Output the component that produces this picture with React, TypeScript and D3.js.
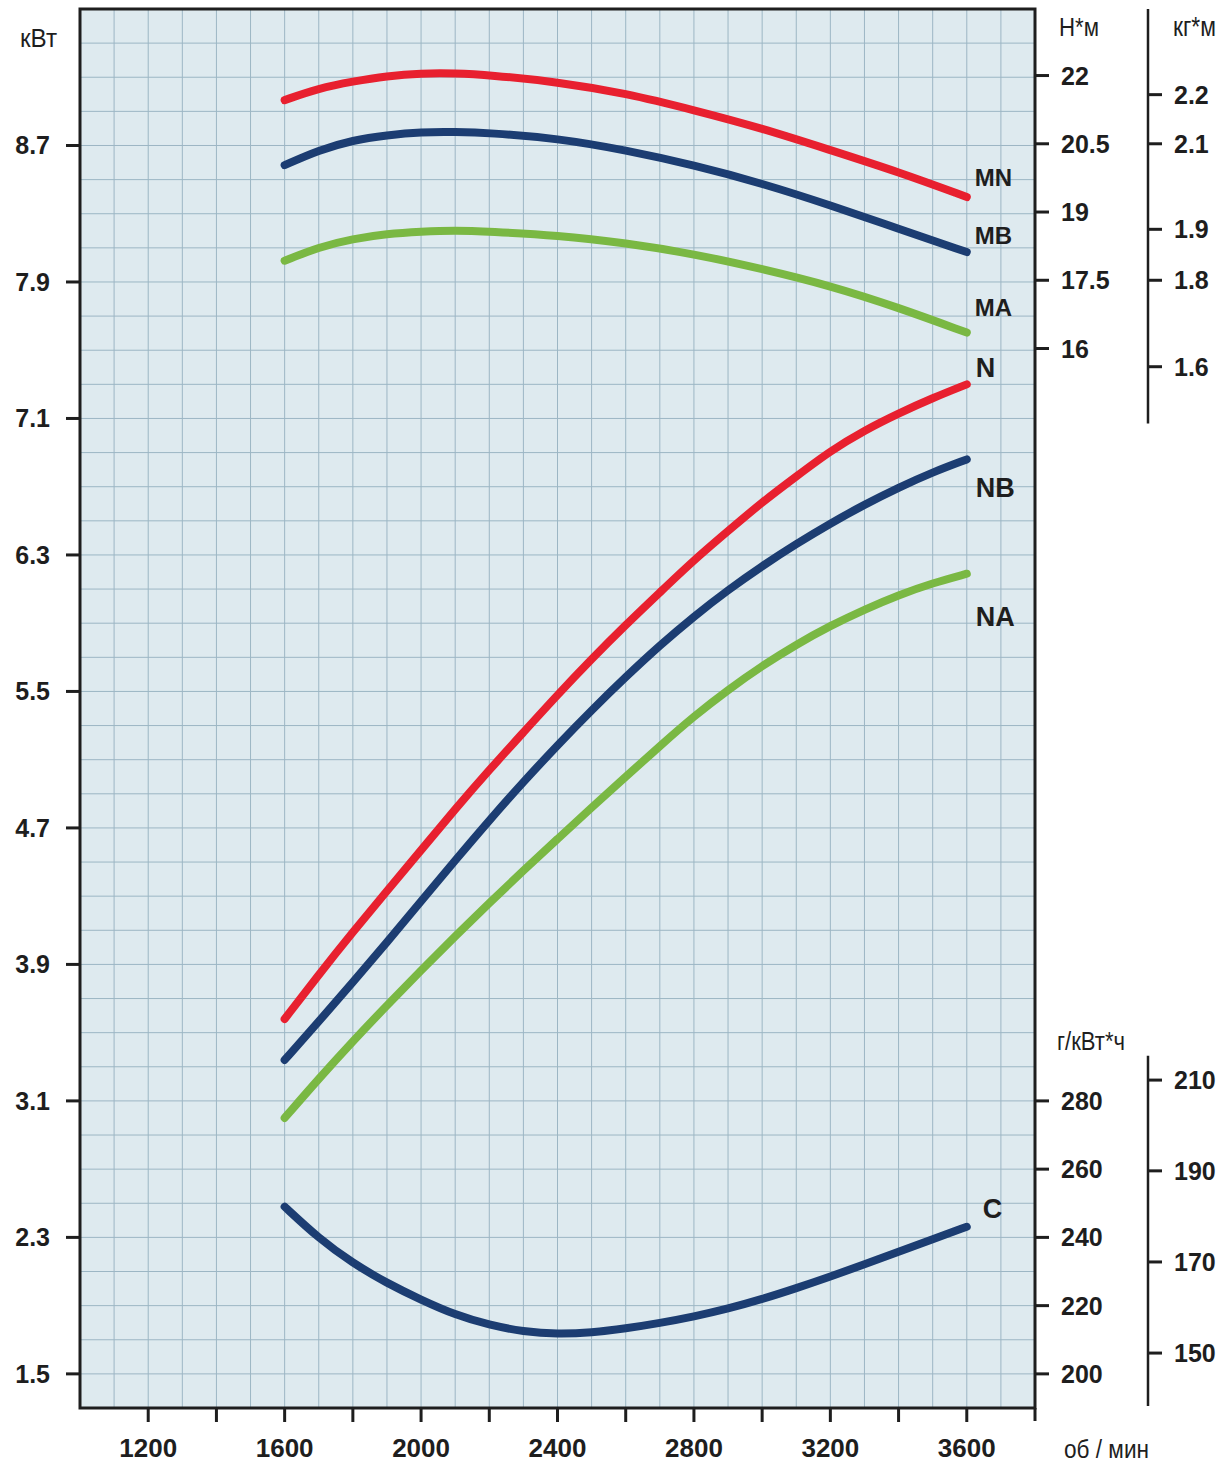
import React, { useEffect } from "react";
import * as d3 from "d3";

// ---------- data ----------
const powerRpm = [1600, 1700, 1800, 1900, 2000, 2100, 2200, 2300, 2400, 2500, 2600, 2700, 2800, 2900, 3000, 3100, 3200, 3300, 3400, 3500, 3600];
const seriesN = [3.58, 3.84, 4.09, 4.33, 4.57, 4.81, 5.04, 5.26, 5.48, 5.69, 5.89, 6.08, 6.27, 6.44, 6.61, 6.76, 6.91, 7.03, 7.13, 7.22, 7.30];
const seriesNB = [3.34, 3.565, 3.795, 4.03, 4.27, 4.51, 4.745, 4.97, 5.185, 5.39, 5.585, 5.77, 5.94, 6.095, 6.235, 6.365, 6.485, 6.595, 6.695, 6.785, 6.86];
const seriesNA = [3.00, 3.23, 3.45, 3.66, 3.865, 4.065, 4.26, 4.45, 4.635, 4.82, 5.00, 5.18, 5.355, 5.51, 5.65, 5.775, 5.885, 5.98, 6.065, 6.135, 6.19];
const seriesC = [249.0, 239.7, 232.4, 226.6, 221.7, 217.3, 214.3, 212.4, 211.6, 212.1, 213.3, 214.9, 216.8, 219.1, 221.9, 225.1, 228.5, 232.1, 235.8, 239.5, 243.1];

const torqueRpm = [1600, 1700, 1800, 1900, 2000, 2100, 2200, 2400, 2600, 2800, 3000, 3200, 3400, 3600];
const seriesMN = [21.46, 21.72, 21.87, 21.99, 22.05, 22.05, 22.01, 21.86, 21.61, 21.24, 20.84, 20.36, 19.88, 19.33];
const seriesMB = [20.03, 20.36, 20.58, 20.69, 20.76, 20.76, 20.74, 20.62, 20.36, 20.03, 19.63, 19.15, 18.63, 18.12];
const seriesMA = [17.93, 18.23, 18.41, 18.52, 18.57, 18.60, 18.57, 18.49, 18.32, 18.08, 17.75, 17.38, 16.90, 16.35];

const kwTicks = [8.7, 7.9, 7.1, 6.3, 5.5, 4.7, 3.9, 3.1, 2.3, 1.5];
const rpmTicks = [1200, 1400, 1600, 1800, 2000, 2200, 2400, 2600, 2800, 3000, 3200, 3400, 3600];
const rpmLabels = [1200, 1600, 2000, 2400, 2800, 3200, 3600];
const nmTicks = [22, 20.5, 19, 17.5, 16];
const kgmTicks = [2.2, 2.1, 1.9, 1.8, 1.6];
const kgmAsNm = [21.58, 20.5, 18.62, 17.5, 15.6];
const sfcTicks = [280, 260, 240, 220, 200];
const sfcHpTicks = [210, 190, 170, 150];
const sfcHpAsKw = [286.1, 259.5, 232.8, 206.1];

// ---------- styles ----------
const RED = "#e8202f";
const BLUE = "#1c3d72";
const GREEN = "#7ab843";
const INK = "#1e1e1e";
const FONT = "'Liberation Sans', Arial, Helvetica, sans-serif";

const W = 1232, H = 1464;
const L = 80, R = 1035, T = 9, B = 1408;

const x = d3.scaleLinear().domain([1000, 3800]).range([L, R]);
const yKw = d3.scaleLinear().domain([1.3, 9.5]).range([B, T]);
const nmToKw = d3.scaleLinear().domain([16, 22]).range([7.51, 9.11]);
const sfcToKw = d3.scaleLinear().domain([200, 280]).range([1.5, 3.1]);
const yNm = (v: number) => yKw(nmToKw(v));
const ySfc = (v: number) => yKw(sfcToKw(v));

const line = (xs: number[], ys: number[], f: (v: number) => number) =>
  d3.line<number>().x((_, i) => x(xs[i])).y((v) => f(v)).curve(d3.curveBasis)(ys) || "";

const curves = [
  { name: "MN", xs: torqueRpm, ys: seriesMN, f: yNm, color: RED, dx: 8, dy: -11, size: 24 },
  { name: "MB", xs: torqueRpm, ys: seriesMB, f: yNm, color: BLUE, dx: 8, dy: -8, size: 24 },
  { name: "MA", xs: torqueRpm, ys: seriesMA, f: yNm, color: GREEN, dx: 8, dy: -17, size: 24 },
  { name: "N", xs: powerRpm, ys: seriesN, f: yKw, color: RED, dx: 9, dy: -7, size: 27 },
  { name: "NB", xs: powerRpm, ys: seriesNB, f: yKw, color: BLUE, dx: 9, dy: 38, size: 27 },
  { name: "NA", xs: powerRpm, ys: seriesNA, f: yKw, color: GREEN, dx: 9, dy: 52, size: 27 },
  { name: "C", xs: powerRpm, ys: seriesC, f: ySfc, color: BLUE, dx: 16, dy: -9, size: 27 },
];

export default function App() {
  useEffect(() => {
    document.body.style.margin = "0";
  }, []);

  const gridX = d3.range(1000, 3801, 100);
  const gridY = d3.range(0, 42).map((k) => 1.3 + 0.2 * k);

  const axis2X = 1148;

  return (
    <svg width={W} height={H} viewBox={`0 0 ${W} ${H}`} style={{ display: "block", background: "#fff" }} fontFamily={FONT}>
      {/* plot background */}
      <rect x={L} y={T} width={R - L} height={B - T} fill="#deeaef" />
      {/* grid */}
      <g stroke="#9cb6c4" strokeWidth={1}>
        {gridX.map((v) => (
          <line key={"gx" + v} x1={x(v)} x2={x(v)} y1={T} y2={B} />
        ))}
        {gridY.map((v, i) => (
          <line key={"gy" + i} x1={L} x2={R} y1={yKw(v)} y2={yKw(v)} />
        ))}
      </g>

      {/* curves */}
      <g fill="none" strokeWidth={8} strokeLinecap="round" strokeLinejoin="round">
        {curves.map((c) => (
          <path key={c.name} d={line(c.xs, c.ys, c.f)} stroke={c.color} />
        ))}
      </g>
      <g fontWeight="bold" fill={INK}>
        {curves.map((c) => {
          const last = c.ys.length - 1;
          return (
            <text key={"l" + c.name} x={x(c.xs[last]) + c.dx} y={c.f(c.ys[last]) + c.dy} fontSize={c.size}>
              {c.name}
            </text>
          );
        })}
      </g>

      {/* frame */}
      <rect x={L} y={T} width={R - L} height={B - T} fill="none" stroke={INK} strokeWidth={3} />
      <line x1={R} x2={R} y1={B} y2={B + 13} stroke={INK} strokeWidth={3} />

      {/* left kW axis */}
      <g stroke={INK} strokeWidth={3}>
        {kwTicks.map((v) => (
          <line key={"kt" + v} x1={L - 14} x2={L} y1={yKw(v)} y2={yKw(v)} />
        ))}
      </g>
      <g fontSize={25} fontWeight="bold" fill={INK} textAnchor="end">
        {kwTicks.map((v) => (
          <text key={"kl" + v} x={50} y={yKw(v) + 9}>
            {v.toFixed(1)}
          </text>
        ))}
      </g>
      <text x={20} y={47} fontSize={26} fill={INK} textLength={37} lengthAdjust="spacingAndGlyphs">
        кВт
      </text>

      {/* bottom rpm axis */}
      <g stroke={INK} strokeWidth={3}>
        {rpmTicks.map((v) => (
          <line key={"xt" + v} x1={x(v)} x2={x(v)} y1={B} y2={B + 14} />
        ))}
      </g>
      <g fontSize={26} fontWeight="bold" fill={INK} textAnchor="middle">
        {rpmLabels.map((v) => (
          <text key={"xl" + v} x={x(v)} y={1457}>
            {v}
          </text>
        ))}
      </g>
      <text x={1064} y={1458} fontSize={26} fill={INK} textLength={85} lengthAdjust="spacingAndGlyphs">
        об / мин
      </text>

      {/* right Nm axis */}
      <g stroke={INK} strokeWidth={3}>
        {nmTicks.map((v) => (
          <line key={"nt" + v} x1={R} x2={R + 14} y1={yNm(v)} y2={yNm(v)} />
        ))}
      </g>
      <g fontSize={25} fontWeight="bold" fill={INK}>
        {nmTicks.map((v) => (
          <text key={"nl" + v} x={1061} y={yNm(v) + 9}>
            {v}
          </text>
        ))}
      </g>
      <text x={1059} y={36} fontSize={26} fill={INK} textLength={40} lengthAdjust="spacingAndGlyphs">
        Н*м
      </text>

      {/* kg*m axis */}
      <line x1={axis2X} x2={axis2X} y1={T} y2={yNm(14.35)} stroke={INK} strokeWidth={2.5} />
      <g stroke={INK} strokeWidth={3}>
        {kgmTicks.map((v, i) => (
          <line key={"gt" + v} x1={axis2X} x2={axis2X + 14} y1={yNm(kgmAsNm[i])} y2={yNm(kgmAsNm[i])} />
        ))}
      </g>
      <g fontSize={25} fontWeight="bold" fill={INK}>
        {kgmTicks.map((v, i) => (
          <text key={"gl" + v} x={1174} y={yNm(kgmAsNm[i]) + 9}>
            {v.toFixed(1)}
          </text>
        ))}
      </g>
      <text x={1173} y={36} fontSize={27} fill={INK} textLength={43} lengthAdjust="spacingAndGlyphs">
        кг*м
      </text>

      {/* SFC axis g/kWh */}
      <g stroke={INK} strokeWidth={3}>
        {sfcTicks.map((v) => (
          <line key={"st" + v} x1={R} x2={R + 14} y1={ySfc(v)} y2={ySfc(v)} />
        ))}
      </g>
      <g fontSize={25} fontWeight="bold" fill={INK}>
        {sfcTicks.map((v) => (
          <text key={"sl" + v} x={1061} y={ySfc(v) + 9}>
            {v}
          </text>
        ))}
      </g>
      <text x={1057} y={1050} fontSize={26} fill={INK} textLength={68} lengthAdjust="spacingAndGlyphs">
        г/кВт*ч
      </text>

      {/* SFC axis g/hp h */}
      <line x1={axis2X} x2={axis2X} y1={ySfc(293.2)} y2={ySfc(190.6)} stroke={INK} strokeWidth={2.5} />
      <g stroke={INK} strokeWidth={3}>
        {sfcHpTicks.map((v, i) => (
          <line key={"ht" + v} x1={axis2X} x2={axis2X + 14} y1={ySfc(sfcHpAsKw[i])} y2={ySfc(sfcHpAsKw[i])} />
        ))}
      </g>
      <g fontSize={25} fontWeight="bold" fill={INK}>
        {sfcHpTicks.map((v, i) => (
          <text key={"hl" + v} x={1174} y={ySfc(sfcHpAsKw[i]) + 9}>
            {v}
          </text>
        ))}
      </g>
    </svg>
  );
}
